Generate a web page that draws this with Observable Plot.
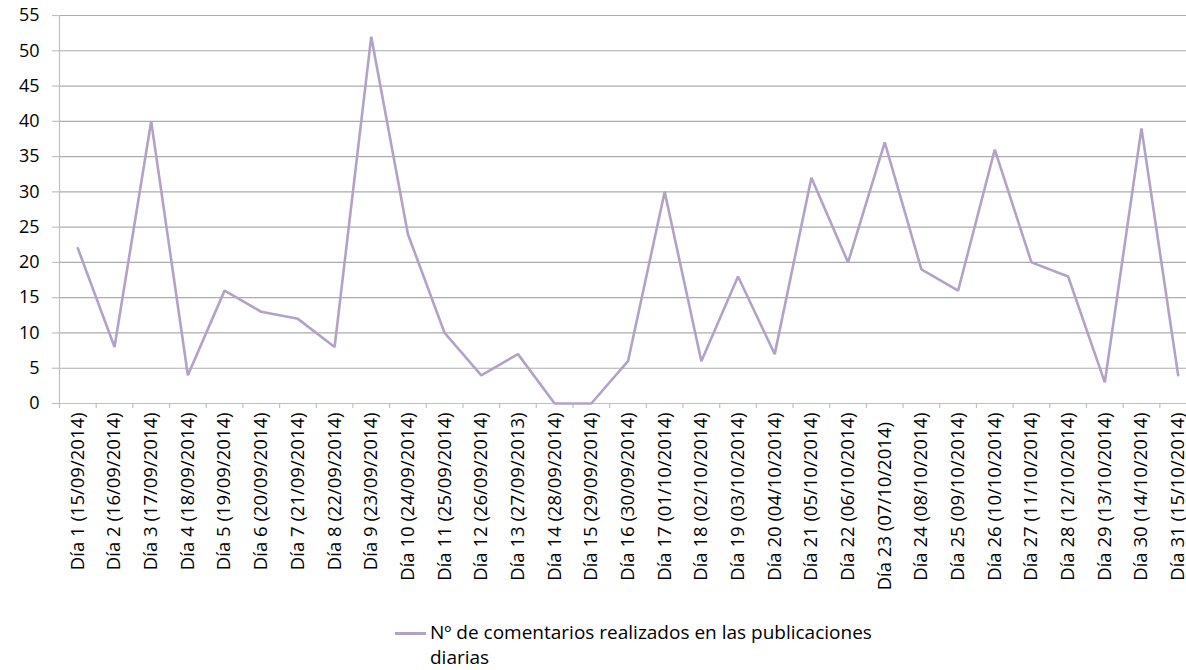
<!DOCTYPE html>
<html>
<head>
<meta charset="utf-8">
<script src="https://cdn.jsdelivr.net/npm/d3@7"></script>
<script src="https://cdn.jsdelivr.net/npm/@observablehq/plot@0.6"></script>
<style>
  html, body { margin: 0; padding: 0; background: #fff; overflow: hidden; }
  #wrap { position: relative; width: 1186px; height: 670px; }
  #legend {
    position: absolute; left: 395px; top: 620px; width: 500px;
    font-family: "Open Sans", sans-serif; font-size: 19px; line-height: 25px; color: #000;
  }
  #legend .swatch {
    position: absolute; left: 0; top: 12px; width: 31px; height: 0;
    border-top: 3px solid #b3a2c7;
  }
  #legend .txt { margin-left: 35px; width: 460px; }
</style>
</head>
<body>
<div id="wrap"></div>
<script>
// Daily comment counts, 15/09/2014 to 15/10/2014
const days = [
  "Día 1 (15/09/2014)", "Día 2 (16/09/2014)", "Día 3 (17/09/2014)", "Día 4 (18/09/2014)",
  "Día 5 (19/09/2014)", "Día 6 (20/09/2014)", "Día 7 (21/09/2014)", "Día 8 (22/09/2014)",
  "Día 9 (23/09/2014)", "Día 10 (24/09/2014)", "Día 11 (25/09/2014)", "Día 12 (26/09/2014)",
  "Día 13 (27/09/2013)", "Día 14 (28/09/2014)", "Día 15 (29/09/2014)", "Día 16 (30/09/2014)",
  "Día 17 (01/10/2014)", "Día 18 (02/10/2014)", "Día 19 (03/10/2014)", "Día 20 (04/10/2014)",
  "Día 21 (05/10/2014)", "Día 22 (06/10/2014)", "Día 23 (07/10/2014)\u00a0\u00a0", "Día 24 (08/10/2014)",
  "Día 25 (09/10/2014)", "Día 26 (10/10/2014)", "Día 27 (11/10/2014)", "Día 28 (12/10/2014)",
  "Día 29 (13/10/2014)", "Día 30 (14/10/2014)", "Día 31 (15/10/2014)"
];
const comments = [22, 8, 40, 4, 16, 13, 12, 8, 52, 24, 10, 4, 7, 0, 0, 6, 30, 6, 18, 7, 32, 20, 37, 19, 16, 36, 20, 18, 3, 39, 4];
const yTicks = [0, 5, 10, 15, 20, 25, 30, 35, 40, 45, 50, 55];
const seriesName = "Nº de comentarios realizados en las publicaciones diarias";

const rows = days.map((d, i) => ({idx: i + 1, day: d, value: comments[i]}));
const centers = rows.map(r => r.idx);
const bounds = d3.range(0, days.length + 1).map(i => i + 0.5);

const gridColor = "#acacac";
const axisColor = "#c0c0c0";
const lineColor = "#b3a2c7";
const font = "Open Sans, sans-serif";

const chart = Plot.plot({
  width: 1186,
  height: 600,
  marginTop: 15,
  marginLeft: 59,
  marginRight: -10,
  marginBottom: 197,
  style: {fontFamily: font, fontSize: "16px", color: "#000", background: "#fff"},
  x: {type: "linear", domain: [0.5, days.length + 0.5]},
  y: {domain: [0, 55]},
  marks: [
    Plot.gridY(yTicks, {stroke: gridColor, strokeOpacity: 1, strokeWidth: 1.2}),
    Plot.axisY(yTicks, {
      tickSize: 7, tickPadding: 13, stroke: axisColor, strokeWidth: 1.2,
      fontSize: 18, label: null
    }),
    Plot.ruleX([0.5], {stroke: axisColor, strokeWidth: 1.2}),
    Plot.ruleY([0], {stroke: axisColor, strokeWidth: 1.2}),
    // tick marks on category boundaries
    Plot.axisX(bounds, {tickSize: 5, tickFormat: null, text: null, stroke: axisColor, strokeWidth: 1.2, label: null}),
    // category labels under band centers
    Plot.axisX(centers, {
      tickSize: 0, tickPadding: 9, tickRotate: -90,
      tickFormat: i => days[i - 1], fontSize: 18.5, label: null
    }),
    Plot.line(rows, {x: "idx", y: "value", stroke: lineColor, strokeWidth: 2.6, strokeLinejoin: "miter"})
  ]
});

const wrap = document.getElementById("wrap");
wrap.appendChild(chart);

const legend = document.createElement("div");
legend.id = "legend";
legend.innerHTML = `<div class="swatch"></div><div class="txt"></div>`;
legend.querySelector(".txt").textContent = seriesName;
wrap.appendChild(legend);
</script>
</body>
</html>
